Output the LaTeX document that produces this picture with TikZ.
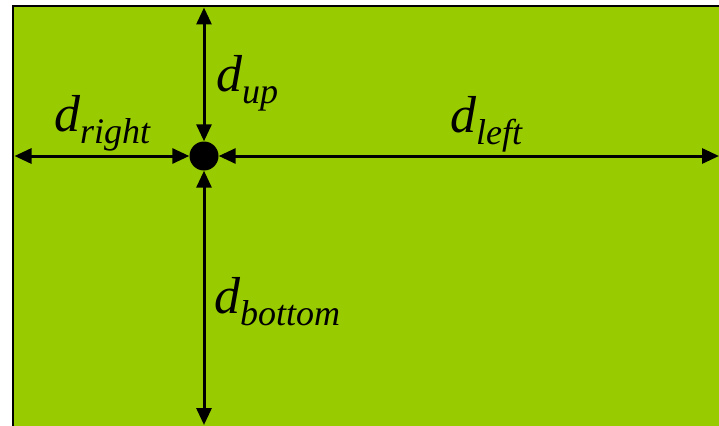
\documentclass[tikz,border=0pt]{standalone}
\usepackage{fontspec}
\setmainfont{Liberation Serif}
\usetikzlibrary{arrows.meta}
\definecolor{bggreen}{HTML}{99CC00}
\tikzset{
  dim/.style={line width=3pt, {Triangle[length=17pt,width=15pt]}-{Triangle[length=17pt,width=15pt]}},
  lbl/.style={anchor=base west, inner sep=0pt, font=\fontsize{52}{60}\selectfont\itshape},
}
\newcommand{\dsub}[1]{d\raisebox{-12pt}{\fontsize{36}{40}\selectfont\itshape #1}}
\begin{document}
\begin{tikzpicture}[x=1pt,y=-1pt]
\useasboundingbox (0,0) rectangle (719,425);
\clip (0,0) rectangle (719,425);
\fill[white] (0,0) rectangle (719,425);
\draw[fill=bggreen, line width=2.5pt] (13,6) rectangle (740,450);
\node[circle, fill=black, minimum size=29pt, inner sep=0pt] (p) at (204,156) {};
\coordinate (top) at (204,7.5);
\coordinate (left) at (14.5,156);
\coordinate (right) at (719,156);
\coordinate (bottom) at (204,425);
\draw[dim] (p.north) -- (top);
\draw[dim] (p.west) -- (left);
\draw[dim] (p.east) -- (right);
\draw[dim] (p.south) -- (bottom);
\node[lbl] (up) at (216,92) {\dsub{up}};
\node[lbl] (rt) at (54,131) {\dsub{right}};
\node[lbl] (lf) at (450,132) {\dsub{left}};
\node[lbl] (bt) at (214,313) {\dsub{bottom}};
\end{tikzpicture}
\end{document}
